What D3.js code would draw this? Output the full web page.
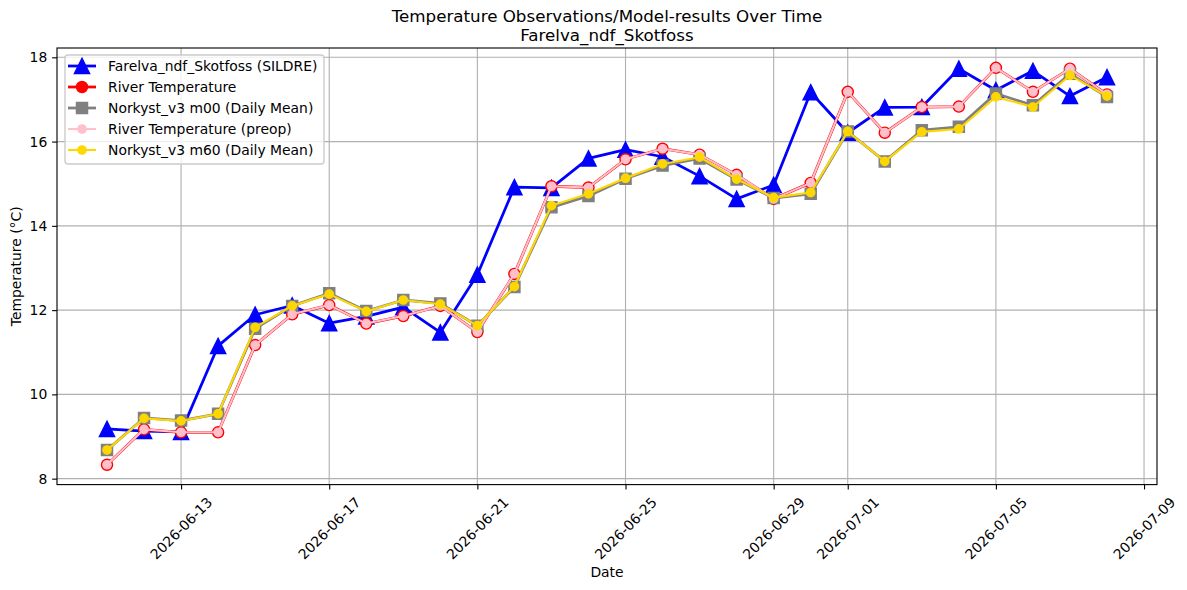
<!DOCTYPE html>
<html>
<head>
<style>
  body { margin: 0; background: #fff; }
  text { font-family: "DejaVu Sans", sans-serif; fill: #000; }
</style>
<script src="https://d3js.org/d3.v7.min.js"></script>
</head>
<body>
<script>
// data
const dates = ["2026-06-11","2026-06-12","2026-06-13","2026-06-14","2026-06-15","2026-06-16","2026-06-17",
  "2026-06-18","2026-06-19","2026-06-20","2026-06-21","2026-06-22","2026-06-23","2026-06-24","2026-06-25",
  "2026-06-26","2026-06-27","2026-06-28","2026-06-29","2026-06-30","2026-07-01","2026-07-02","2026-07-03",
  "2026-07-04","2026-07-05","2026-07-06","2026-07-07","2026-07-08"];
const sildre = [9.18, 9.13, 9.11, 11.15, 11.89, 12.11, 11.69, 11.85, 12.07, 11.47, 12.84, 14.92, 14.90, 15.60,
  15.81, 15.64, 15.18, 14.64, 14.97, 17.17, 16.21, 16.81, 16.82, 17.73, 17.22, 17.68, 17.08, 17.53];
const riverTemp = [8.33, 9.17, 9.10, 9.10, 11.17, 11.90, 12.12, 11.68, 11.86, 12.10, 11.48, 12.86, 14.94, 14.91,
  15.58, 15.83, 15.69, 15.21, 14.64, 15.02, 17.18, 16.21, 16.82, 16.83, 17.75, 17.18, 17.73, 17.12];
const m00 = [8.68, 9.44, 9.38, 9.54, 11.56, 12.10, 12.40, 11.98, 12.24, 12.16, 11.63, 12.55, 14.44, 14.71,
  15.12, 15.43, 15.60, 15.10, 14.66, 14.76, 16.24, 15.53, 16.27, 16.35, 17.14, 16.86, 17.61, 17.06];
const riverPreop = [8.33, 9.17, 9.10, 9.10, 11.17, 11.90, 12.12, 11.68, 11.86, 12.10, 11.48, 12.86, 14.94, 14.91,
  15.58, 15.83, 15.69, 15.21, 14.64, 15.02, 17.18, 16.21, 16.82, 16.83, 17.75, 17.18, 17.73, 17.12];
const m60 = [8.68, 9.43, 9.37, 9.54, 11.59, 12.10, 12.38, 11.97, 12.24, 12.14, 11.63, 12.56, 14.48, 14.76,
  15.13, 15.47, 15.63, 15.11, 14.67, 14.79, 16.24, 15.53, 16.23, 16.30, 17.06, 16.82, 17.57, 17.08];
const xTicks = ["2026-06-13","2026-06-17","2026-06-21","2026-06-25","2026-06-29","2026-07-01","2026-07-05","2026-07-09"];
const yTicks = [8, 10, 12, 14, 16, 18];

const W = 1187, H = 590;
const mLeft = 57, mRight = 1157, mTop = 48, mBottom = 484.6;
const PT = 100 / 72;

const parse = d3.utcParse("%Y-%m-%d");
const xs = dates.map(parse);
const span = xs[xs.length - 1] - xs[0];

const x = d3.scaleUtc()
  .domain([new Date(+xs[0] - span * 0.05), new Date(+xs[xs.length - 1] + span * 0.05)])
  .range([mLeft, mRight]);

const all = sildre.concat(riverTemp, m00, riverPreop, m60);
const lo = d3.min(all), hi = d3.max(all), pad = (hi - lo) * 0.05;
const y = d3.scaleLinear().domain([lo - pad, hi + pad]).range([mBottom, mTop]);

const svg = d3.select("body").append("svg").attr("width", W).attr("height", H);

// grid
svg.append("g").selectAll("line").data(xTicks.map(parse)).join("line")
  .attr("x1", d => x(d)).attr("x2", d => x(d)).attr("y1", mTop).attr("y2", mBottom)
  .attr("stroke", "#b0b0b0").attr("stroke-width", 0.8 * PT);
svg.append("g").selectAll("line").data(yTicks).join("line")
  .attr("x1", mLeft).attr("x2", mRight).attr("y1", d => y(d)).attr("y2", d => y(d))
  .attr("stroke", "#b0b0b0").attr("stroke-width", 0.8 * PT);

// axes
const xAxis = svg.append("g").attr("transform", `translate(0,${mBottom})`)
  .call(d3.axisBottom(x).tickValues(xTicks.map(parse)).tickFormat(d3.utcFormat("%Y-%m-%d"))
    .tickSize(3.5 * PT).tickPadding(3.5 * PT).tickSizeOuter(0));
xAxis.select(".domain").remove();
xAxis.selectAll("text").style("font-size", "13.9px").attr("text-anchor", "middle")
  .attr("y", 0).attr("dy", "0.32em")
  .attr("transform", function () {
    const w = this.getComputedTextLength();
    const off = 7 * PT + (w + 16) * 0.7071 / 2;
    return `translate(0,${off}) rotate(-45)`;
  });

const yAxis = svg.append("g").attr("transform", `translate(${mLeft},0)`)
  .call(d3.axisLeft(y).tickValues(yTicks).tickSize(3.5 * PT).tickPadding(3.5 * PT).tickSizeOuter(0));
yAxis.select(".domain").remove();
yAxis.selectAll("text").style("font-size", "13.9px");
svg.selectAll(".tick line").attr("stroke", "#000").attr("stroke-width", 0.8 * PT);

// series
const series = [
  { name: "Farelva_ndf_Skotfoss (SILDRE)", vals: sildre, color: "blue", lw: 2 * PT, marker: "tri", size: 7.6 },
  { name: "River Temperature", vals: riverTemp, color: "red", lw: 2 * PT, marker: "circle", size: 5.55 },
  { name: "Norkyst_v3 m00 (Daily Mean)", vals: m00, color: "gray", lw: 2 * PT, marker: "square", size: 5.55 },
  { name: "River Temperature (preop)", vals: riverPreop, color: "pink", lw: 1.5 * PT, marker: "circle", size: 4.17 },
  { name: "Norkyst_v3 m60 (Daily Mean)", vals: m60, color: "gold", lw: 1.5 * PT, marker: "circle", size: 4.17 }
];

function markerPath(type, s) {
  if (type === "tri") return `M0,${-s}L${s},${s}L${-s},${s}Z`;
  if (type === "square") return `M${-s},${-s}H${s}V${s}H${-s}Z`;
  return d3.arc()({ innerRadius: 0, outerRadius: s, startAngle: 0, endAngle: 2 * Math.PI });
}

const line = d3.line().x(d => x(d.date)).y(d => y(d.v));
const plot = svg.append("g");
series.forEach(s => {
  const pts = s.vals.map((v, i) => ({ date: xs[i], v }));
  const g = plot.append("g");
  g.append("path").datum(pts).attr("d", line).attr("fill", "none")
    .attr("stroke", s.color).attr("stroke-width", s.lw).attr("stroke-linejoin", "round").attr("stroke-linecap", "square");
  g.selectAll("path.m").data(pts).join("path").attr("class", "m")
    .attr("d", markerPath(s.marker, s.size))
    .attr("transform", d => `translate(${x(d.date)},${y(d.v)})`)
    .attr("fill", s.color).attr("stroke", s.color).attr("stroke-width", PT);
});

// frame
svg.append("rect").attr("x", mLeft).attr("y", mTop).attr("width", mRight - mLeft).attr("height", mBottom - mTop)
  .attr("fill", "none").attr("stroke", "#000").attr("stroke-width", 0.8 * PT);

// legend
const lg = svg.append("g");
lg.append("rect").attr("x", 65).attr("y", 55).attr("width", 259).attr("height", 109).attr("rx", 3)
  .attr("fill", "#fff").attr("fill-opacity", 0.8).attr("stroke", "#cccccc").attr("stroke-width", PT);
series.forEach((s, i) => {
  const cy = 66 + i * 21;
  lg.append("line").attr("x1", 68).attr("x2", 96).attr("y1", cy).attr("y2", cy)
    .attr("stroke", s.color).attr("stroke-width", s.lw);
  lg.append("path").attr("d", markerPath(s.marker, s.size)).attr("transform", `translate(82,${cy})`)
    .attr("fill", s.color).attr("stroke", s.color).attr("stroke-width", PT);
  lg.append("text").attr("x", 108).attr("y", cy + 5).style("font-size", "13.9px").text(s.name);
});

// titles and labels
const cx = (mLeft + mRight) / 2;
svg.append("text").attr("x", cx).attr("y", 22).attr("text-anchor", "middle").style("font-size", "16.7px")
  .text("Temperature Observations/Model-results Over Time");
svg.append("text").attr("x", cx).attr("y", 41).attr("text-anchor", "middle").style("font-size", "16.7px")
  .text("Farelva_ndf_Skotfoss");
svg.append("text").attr("x", cx).attr("y", 577).attr("text-anchor", "middle").style("font-size", "13.9px").text("Date");
svg.append("text").attr("transform", `translate(21,${(mTop + mBottom) / 2}) rotate(-90)`)
  .attr("text-anchor", "middle").style("font-size", "13.9px").text("Temperature (°C)");
</script>
</body>
</html>
